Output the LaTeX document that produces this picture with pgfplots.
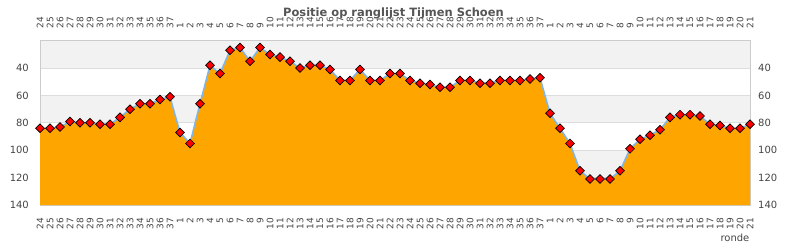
\documentclass[border=0pt]{standalone}
\usepackage{pgfplots}
\pgfplotsset{compat=1.18}
\usepgfplotslibrary{fillbetween}
\usepackage{fontspec}
\setmainfont{DejaVu Sans}
\definecolor{bandgray}{HTML}{F2F2F2}
\definecolor{gridgray}{HTML}{DDDDDD}
\definecolor{bordergray}{HTML}{CCCCCC}
\definecolor{textgray}{HTML}{444444}
\definecolor{titlegray}{HTML}{555555}
\definecolor{linecol}{HTML}{7EB6EA}
\definecolor{areaorange}{HTML}{FFA500}
\pgfplotstableread{
x y
0 84
1 84
2 83
3 79
4 80
5 80
6 81
7 81
8 76
9 70
10 66
11 66
12 63
13 61
14 87
15 95
16 66
17 38
18 44
19 27
20 25
21 35
22 25
23 30
24 32
25 35
26 40
27 38
28 38
29 41
30 49
31 49
32 41
33 49
34 49
35 44
36 44
37 49
38 51
39 52
40 54
41 54
42 49
43 49
44 51
45 51
46 49
47 49
48 49
49 48
50 47
51 73
52 84
53 95
54 115
55 121
56 121
57 121
58 115
59 99
60 92
61 89
62 85
63 76
64 74
65 74
66 75
67 81
68 82
69 84
70 84
71 81
}\posdata
\begin{document}
\begin{tikzpicture}
\pgfplotsset{
  common/.style={
    at={(0,0)}, anchor=south west,
    scale only axis, width=710bp, height=164.3bp,
    xmin=0, xmax=71, ymin=20, ymax=140, y dir=reverse,
    xtick={0,...,71},
    xticklabels={24,25,26,27,28,29,30,31,32,33,34,35,36,37,1,2,3,4,5,6,7,8,9,10,11,12,13,14,15,16,17,18,19,20,21,22,23,24,25,26,27,28,29,30,31,32,33,34,35,36,37,1,2,3,4,5,6,7,8,9,10,11,12,13,14,15,16,17,18,19,20,21},
    ytick={40,60,80,100,120,140},
    major tick length=0pt,
    /pgf/number format/assume math mode=true,
    tick label style={text=textgray},
    clip=false,
  }
}
\begin{axis}[common,
  set layers,
  axis line style={draw=bordergray, line width=0.8bp},
  ymajorgrids, grid style={draw=gridgray, line width=0.8bp},
  xticklabel pos=lower, yticklabel pos=left,
  xticklabel style={font=\fontsize{9}{9}\selectfont, inner sep=0pt, yshift=-12.5bp, rotate=90, anchor=east},
  yticklabel style={font=\fontsize{10}{10}\selectfont, inner sep=0pt, xshift=-11bp, anchor=east},
  xlabel={ronde},
  xlabel style={font=\fontsize{10}{10}\selectfont, text=textgray, at={(axis description cs:1,0)}, anchor=base east, inner sep=0pt, yshift=-36bp, xshift=-0.5bp},
]
\begin{pgfonlayer}{axis background}
\fill[bandgray] (axis cs:0,20) rectangle (axis cs:71,40);
\fill[bandgray] (axis cs:0,60) rectangle (axis cs:71,80);
\fill[bandgray] (axis cs:0,100) rectangle (axis cs:71,120);
\end{pgfonlayer}
\addplot[draw=none, name path=base, forget plot] coordinates {(0,140) (71,140)};
\addplot[draw=none, name path=top, forget plot] table[x=x,y=y] {\posdata};
\addplot[areaorange, forget plot] fill between[of=top and base];
\addplot[linecol, line width=1.5bp, mark=square*, mark size=3.1bp,
  mark options={rotate=45, fill=red, draw=black, line width=0.7bp}] table[x=x,y=y] {\posdata};
\end{axis}
\begin{axis}[common,
  axis line style={draw=none},
  xticklabel pos=upper, yticklabel pos=right,
  xticklabel style={font=\fontsize{9}{9}\selectfont, inner sep=0pt, yshift=12.5bp, rotate=90, anchor=west},
  yticklabel style={font=\fontsize{10}{10}\selectfont, inner sep=0pt, xshift=8bp, anchor=west},
]
\addplot[draw=none] coordinates {(0,20) (71,140)};
\end{axis}
\node[font=\bfseries\fontsize{11.5}{12}\selectfont, text=titlegray, anchor=base] at (353.5bp,188.5bp) {Positie op ranglijst Tijmen Schoen};
\pgfresetboundingbox
\useasboundingbox (-40bp,-45bp) rectangle (750bp,205bp);
\end{tikzpicture}
\end{document}
